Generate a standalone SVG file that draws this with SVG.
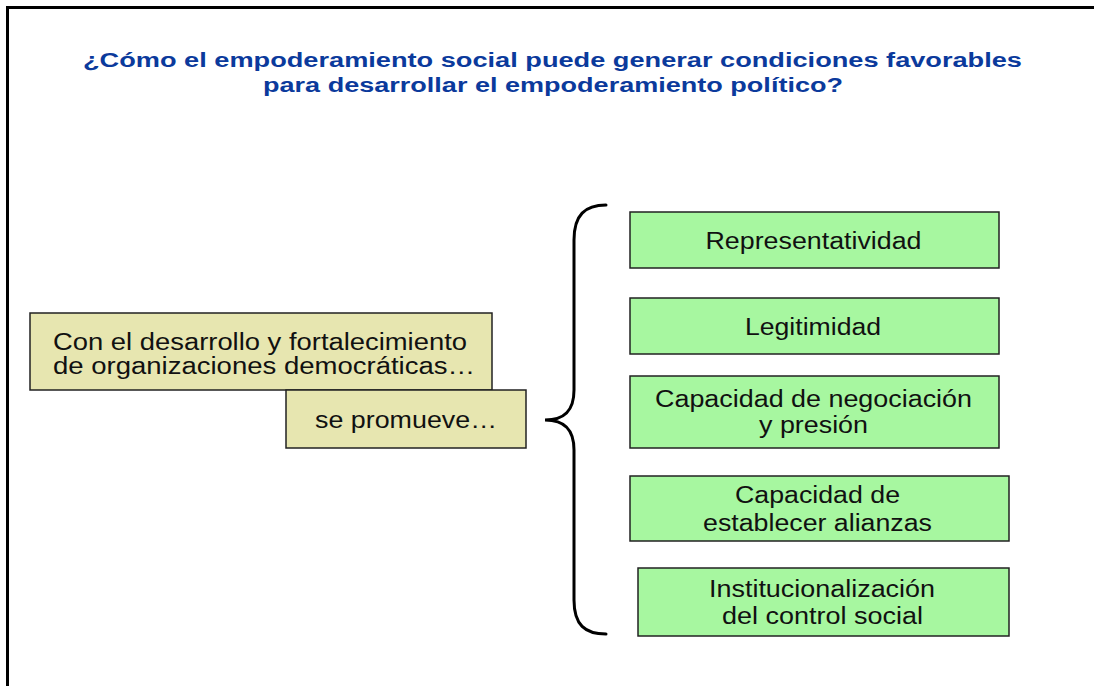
<svg xmlns="http://www.w3.org/2000/svg" width="1094" height="686" viewBox="0 0 1094 686">
<style>
.title{font-family:"Liberation Sans",Arial,sans-serif;font-weight:bold;font-size:20px;fill:#0B3A9C;text-anchor:middle}
.t{font-family:"Liberation Sans",Arial,sans-serif;font-size:23.5px;fill:#111;text-anchor:middle}
.khaki{fill:#E7E6B0;stroke:#222;stroke-width:1.5}
.green{fill:#A7F7A0;stroke:#222;stroke-width:1.5}
.brace{fill:none;stroke:#000;stroke-width:3;stroke-linecap:round}
</style>
<rect x="0" y="0" width="1094" height="686" fill="#fff"/>
<g id="frame">
<line x1="7.5" y1="7.5" x2="1094" y2="7.5" stroke="#000" stroke-width="3"/>
<line x1="7.5" y1="6" x2="7.5" y2="686" stroke="#000" stroke-width="3"/>
</g>
<g id="title">
<text class="title" x="552.5" y="67" textLength="939" lengthAdjust="spacingAndGlyphs">¿Cómo el empoderamiento social puede generar condiciones favorables</text>
<text class="title" x="553" y="92" textLength="580" lengthAdjust="spacingAndGlyphs">para desarrollar el empoderamiento político?</text>
</g>
<g id="n-org">
<rect class="khaki" x="30" y="313" width="462" height="77"/>
<text class="t" x="260" y="350" textLength="414" lengthAdjust="spacingAndGlyphs">Con el desarrollo y fortalecimiento</text>
<text class="t" x="264" y="374" textLength="422" lengthAdjust="spacingAndGlyphs">de organizaciones democráticas…</text>
</g>
<g id="n-promueve">
<rect class="khaki" x="286" y="390" width="240" height="58"/>
<text class="t" x="406" y="428" textLength="182" lengthAdjust="spacingAndGlyphs">se promueve…</text>
</g>
<g id="connectors">
<path class="brace" d="M606,205 C585,205 574,215 574,240 L574,390 C574,410 565,420 545,420 C565,420 574,430 574,450 L574,600 C574,625 585,634 606,634"/>
</g>
<g id="n-representatividad">
<rect class="green" x="630" y="212" width="369" height="56"/>
<text class="t" x="813.5" y="249" textLength="216" lengthAdjust="spacingAndGlyphs">Representatividad</text>
</g>
<g id="n-legitimidad">
<rect class="green" x="630" y="298" width="369" height="56"/>
<text class="t" x="813" y="335" textLength="136" lengthAdjust="spacingAndGlyphs">Legitimidad</text>
</g>
<g id="n-negociacion">
<rect class="green" x="630" y="376" width="369" height="72"/>
<text class="t" x="813.5" y="407" textLength="317" lengthAdjust="spacingAndGlyphs">Capacidad de negociación</text>
<text class="t" x="813.5" y="433" textLength="109" lengthAdjust="spacingAndGlyphs">y presión</text>
</g>
<g id="n-alianzas">
<rect class="green" x="630" y="476" width="379" height="65"/>
<text class="t" x="817.5" y="503" textLength="165" lengthAdjust="spacingAndGlyphs">Capacidad de</text>
<text class="t" x="817.5" y="531" textLength="229" lengthAdjust="spacingAndGlyphs">establecer alianzas</text>
</g>
<g id="n-institucionalizacion">
<rect class="green" x="638" y="568" width="371" height="68"/>
<text class="t" x="822" y="597" textLength="226" lengthAdjust="spacingAndGlyphs">Institucionalización</text>
<text class="t" x="822.5" y="624" textLength="201" lengthAdjust="spacingAndGlyphs">del control social</text>
</g>
</svg>
